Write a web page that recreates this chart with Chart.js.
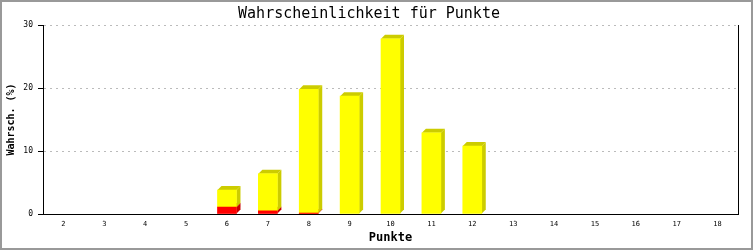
<!DOCTYPE html>
<html>
<head>
<meta charset="utf-8">
<script src="https://cdn.jsdelivr.net/npm/chart.js@4.4.1/dist/chart.umd.min.js"></script>
<style>
    html, body { margin: 0; padding: 0; background: #fff; }
    #wrap { width: 753px; height: 250px; position: relative; }
</style>
</head>
<body>
<div id="wrap"><canvas id="punkteChart"></canvas></div>
<script>
// Data
const punkte = ['2', '3', '4', '5', '6', '7', '8', '9', '10', '11', '12', '13', '14', '15', '16', '17', '18'];
const rotWerte = [0, 0, 0, 0, 1.1, 0.5, 0.15, 0, 0, 0, 0, 0, 0, 0, 0, 0, 0];
const gelbWerte = [0, 0, 0, 0, 2.7, 5.9, 19.65, 18.7, 27.8, 12.9, 10.8, 0, 0, 0, 0, 0, 0];
const yTicks = [0, 10, 20, 30];

const MONO = "'DejaVu Sans Mono', 'Liberation Mono', monospace";

/**
 * Draws the side and top faces that give the bars their 3D look
 */
const bar3d = {
    id: 'bar3d',
    beforeDatasetsDraw(chart) {
        const ctx = chart.ctx;
        const dx = 4, dy = 4;
        chart.data.datasets.forEach((ds, di) => {
            const meta = chart.getDatasetMeta(di);
            meta.data.forEach((el, i) => {
                if (!ds.data[i]) return;
                const p = el.getProps(['x', 'y', 'base', 'width'], true);
                const x0 = p.x - p.width / 2;
                const x1 = p.x + p.width / 2;
                ctx.save();
                ctx.fillStyle = ds.sideColor;
                // side
                ctx.beginPath();
                ctx.moveTo(x1, p.y);
                ctx.lineTo(x1 + dx, p.y - dy);
                ctx.lineTo(x1 + dx, p.base - dy);
                ctx.lineTo(x1, p.base);
                ctx.closePath();
                ctx.fill();
                // top
                ctx.beginPath();
                ctx.moveTo(x0, p.y);
                ctx.lineTo(x0 + dx, p.y - dy);
                ctx.lineTo(x1 + dx, p.y - dy);
                ctx.lineTo(x1, p.y);
                ctx.closePath();
                ctx.fill();
                ctx.restore();
            });
        });
    }
};

/**
 * Right frame line of the plot and grey border round the image
 */
const frame = {
    id: 'frame',
    afterDraw(chart) {
        const ctx = chart.ctx;
        const a = chart.chartArea;
        ctx.save();
        ctx.strokeStyle = '#000';
        ctx.lineWidth = 1;
        ctx.beginPath();
        ctx.moveTo(Math.round(a.right) + 0.5, a.top);
        ctx.lineTo(Math.round(a.right) + 0.5, a.bottom);
        ctx.stroke();
        ctx.strokeStyle = '#999';
        ctx.lineWidth = 2;
        ctx.strokeRect(1, 1, chart.width - 2, chart.height - 2);
        ctx.restore();
    }
};

// hide empty bars completely
function fillFor(color) {
    return ctx => (ctx.raw ? color : 'rgba(0,0,0,0)');
}

new Chart(document.getElementById('punkteChart'), {
    type: 'bar',
    data: {
        labels: punkte,
        datasets: [
            {
                label: 'rot',
                data: rotWerte,
                backgroundColor: fillFor('#ff0000'),
                sideColor: '#c80000',
                borderWidth: 0,
                barThickness: 19
            },
            {
                label: 'gelb',
                data: gelbWerte,
                backgroundColor: fillFor('#ffff00'),
                sideColor: '#cccc00',
                borderWidth: 0,
                barThickness: 19
            }
        ]
    },
    options: {
        responsive: true,
        maintainAspectRatio: false,
        animation: false,
        layout: { padding: { left: 0, right: 15, top: 0, bottom: 0 } },
        plugins: {
            legend: { display: false },
            tooltip: { enabled: false },
            title: {
                display: true,
                text: 'Wahrscheinlichkeit für Punkte',
                color: '#000',
                font: { family: MONO, size: 15, weight: 'normal' },
                padding: { top: 5, bottom: 2 }
            }
        },
        scales: {
            x: {
                stacked: true,
                grid: { display: false, drawTicks: false },
                border: { display: true, color: '#000', width: 1 },
                ticks: {
                    color: '#000',
                    font: { family: MONO, size: 7 },
                    padding: 6,
                    maxRotation: 0,
                    autoSkip: false
                },
                title: {
                    display: true,
                    text: 'Punkte',
                    color: '#000',
                    font: { family: MONO, size: 12, weight: 'bold' },
                    padding: { top: 0, bottom: 5 }
                },
                afterFit(scale) { scale.height = 36; }
            },
            y: {
                stacked: true,
                min: 0,
                max: 30,
                afterBuildTicks(scale) {
                    scale.ticks = yTicks.map(v => ({ value: v }));
                },
                grid: {
                    color: '#bbbbbb',
                    lineWidth: 1,
                    drawTicks: true,
                    tickLength: 5,
                    tickColor: '#000'
                },
                border: { display: true, color: '#000', width: 1, dash: [2, 4] },
                ticks: {
                    color: '#000',
                    font: { family: MONO, size: 8 },
                    padding: 5
                },
                title: {
                    display: true,
                    text: 'Wahrsch. (%)',
                    color: '#000',
                    font: { family: MONO, size: 10, weight: 'bold' },
                    padding: { top: 5, bottom: 0 }
                },
                afterFit(scale) { scale.width = 43; }
            }
        }
    },
    plugins: [bar3d, frame]
});
</script>
</body>
</html>
